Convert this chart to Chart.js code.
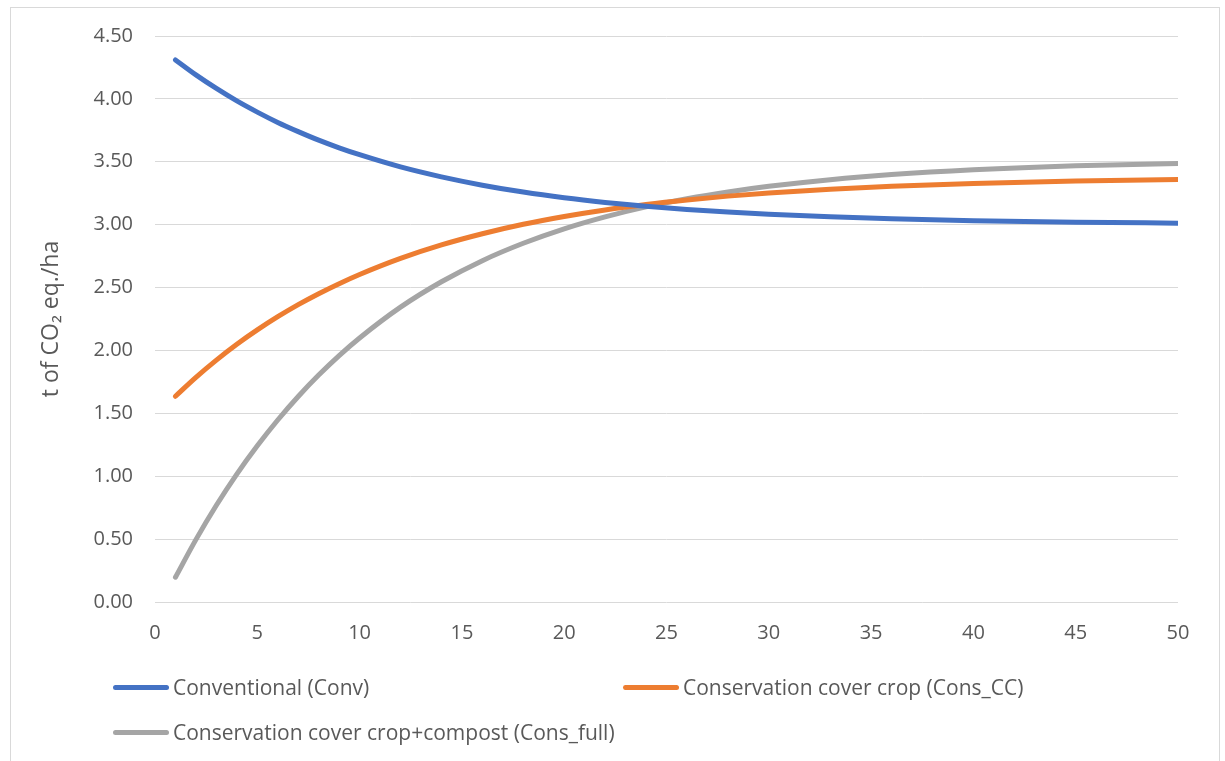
<!DOCTYPE html>
<html>
<head>
<meta charset="utf-8">
<script src="https://cdn.jsdelivr.net/npm/chart.js@4.4.1/dist/chart.umd.min.js"></script>
<style>
  html, body { margin: 0; padding: 0; background: #fff; }
  body { width: 1225px; height: 761px; position: relative; overflow: hidden; font-family: 'Open Sans', sans-serif; }
  .frame { position: absolute; left: 10px; top: 7px; width: 1208px; height: 800px; border: 1px solid #d9d9d9; }
  #wrap { position: absolute; left: 0; top: 0; width: 1225px; height: 761px; }
  #legend { position: absolute; left: 113px; top: 670px; display: grid; grid-template-columns: 510px 510px; row-gap: 11px; }
  .item { display: flex; align-items: center; height: 34px; color: #595959; font-size: 21px; }
  .swatch { width: 56px; height: 5px; border-radius: 3px; margin-right: 4px; }
</style>
</head>
<body>
<div class="frame"></div>
<div id="wrap"><canvas id="emissionsChart"></canvas></div>
<div id="legend"></div>
<script>
// years (x) and t CO2 eq./ha
const years = [1, 2, 3, 4, 5, 6, 7, 8, 9, 10, 12, 14, 16, 18, 20, 22, 24, 26, 28, 30, 33, 36, 40, 45, 50];
const conv = [4.310, 4.191, 4.083, 3.984, 3.895, 3.813, 3.740, 3.672, 3.611, 3.556, 3.459, 3.380, 3.314, 3.259, 3.214, 3.177, 3.146, 3.121, 3.100, 3.083, 3.062, 3.047, 3.032, 3.020, 3.012];
const consCC = [1.636, 1.786, 1.923, 2.049, 2.163, 2.268, 2.364, 2.451, 2.531, 2.604, 2.732, 2.839, 2.928, 3.003, 3.065, 3.117, 3.160, 3.196, 3.227, 3.252, 3.282, 3.305, 3.328, 3.347, 3.359];
const consFull = [0.197, 0.496, 0.769, 1.017, 1.242, 1.447, 1.634, 1.804, 1.959, 2.099, 2.344, 2.546, 2.714, 2.852, 2.967, 3.062, 3.141, 3.206, 3.260, 3.305, 3.358, 3.398, 3.436, 3.468, 3.487];

const seriesNames = ['Conventional (Conv)', 'Conservation cover crop (Cons_CC)', 'Conservation cover crop+compost (Cons_full)'];
const seriesColors = ['#4472C4', '#ED7D31', '#A5A5A5'];
const xTicks = [0, 5, 10, 15, 20, 25, 30, 35, 40, 45, 50];
const yTicks = [0, 0.5, 1, 1.5, 2, 2.5, 3, 3.5, 4, 4.5];

function toPoints(values) {
    return years.map(function(x, i) { return { x: x, y: values[i] }; });
}

const tickFont = { family: "'Open Sans', sans-serif", size: 20 };
const textColor = '#595959';

const chart = new Chart(document.getElementById('emissionsChart'), {
    type: 'line',
    data: {
        datasets: [conv, consCC, consFull].map(function(values, i) {
            return {
                label: seriesNames[i],
                data: toPoints(values),
                borderColor: seriesColors[i],
                backgroundColor: seriesColors[i],
                borderWidth: 5,
                borderCapStyle: 'round',
                pointRadius: 0,
                cubicInterpolationMode: 'monotone',
                fill: false
            };
        })
    },
    options: {
        responsive: true,
        maintainAspectRatio: false,
        animation: false,
        layout: { padding: { left: 0, right: 47, top: 36, bottom: 0 } },
        scales: {
            x: {
                type: 'linear',
                min: 0,
                max: 50,
                afterBuildTicks: function(scale) { scale.ticks = xTicks.map(function(v) { return { value: v }; }); },
                afterFit: function(scale) { scale.height = 159; },
                grid: { display: false, drawTicks: false },
                border: { display: false },
                ticks: { color: textColor, font: tickFont, padding: 19, maxRotation: 0 }
            },
            y: {
                min: 0,
                max: 4.5,
                afterBuildTicks: function(scale) { scale.ticks = yTicks.map(function(v) { return { value: v }; }); },
                afterFit: function(scale) { scale.width = 155; },
                grid: { color: '#d9d9d9', lineWidth: 1, drawTicks: false },
                border: { display: false },
                ticks: {
                    color: textColor,
                    font: tickFont,
                    padding: 22,
                    callback: function(v) { return Number(v).toFixed(2); }
                },
                title: {
                    display: true,
                    text: 't of CO\u2082 eq./ha',
                    color: textColor,
                    font: { family: "'Open Sans', sans-serif", size: 23 },
                    padding: { top: 38, bottom: 0 }
                }
            }
        },
        plugins: {
            legend: { display: false },
            tooltip: { enabled: false }
        }
    }
});

// legend laid out in two columns like the original
const legendBox = document.getElementById('legend');
chart.data.datasets.forEach(function(ds) {
    const item = document.createElement('div');
    item.className = 'item';
    const swatch = document.createElement('span');
    swatch.className = 'swatch';
    swatch.style.background = ds.borderColor;
    const label = document.createElement('span');
    label.textContent = ds.label;
    item.appendChild(swatch);
    item.appendChild(label);
    legendBox.appendChild(item);
});
</script>
</body>
</html>
